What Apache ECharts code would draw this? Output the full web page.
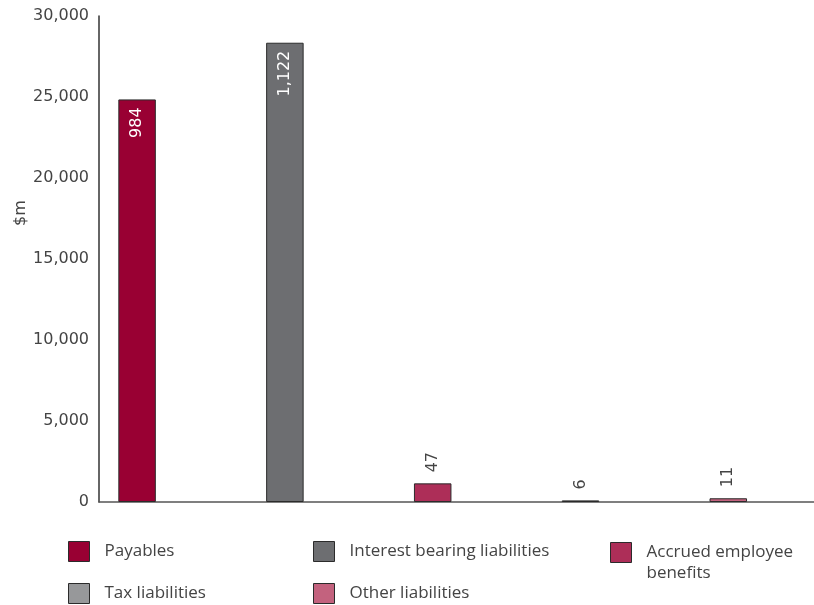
<!DOCTYPE html>
<html>
<head>
<meta charset="utf-8">
<script src="https://cdn.jsdelivr.net/npm/echarts@6/dist/echarts.min.js"></script>
<style>html,body{margin:0;padding:0;background:#fff}#c{width:814px;height:605px}</style>
</head>
<body>
<div id="c"></div>
<script>
var categories = ['Payables', 'Interest bearing liabilities', 'Accrued employee benefits', 'Tax liabilities', 'Other liabilities'];
var values = [24850, 28350, 1150, 100, 230];
var labels = ['984', '1,122', '47', '6', '11'];
var colors = ['#990033', '#6D6E71', '#AD2E58', '#97989A', '#C3627E'];
var yTicks = [0, 5000, 10000, 15000, 20000, 25000, 30000];

var FONT = 'DejaVu Sans';
var LEGEND_FONT = 'Open Sans';
var chart = echarts.init(document.getElementById('c'));

var series = categories.map(function (name, i) {
  var inside = i < 2;
  return {
    name: name,
    type: 'bar',
    stack: 'all',
    barWidth: 37.5,
    barGap: '91%',
    data: categories.map(function (c, j) { return j === i ? values[i] : '-'; }),
    itemStyle: { color: colors[i], borderColor: '#2b2b2b', borderWidth: 1 },
    label: {
      show: true,
      position: inside ? 'insideTop' : 'top',
      rotate: 90,
      distance: inside ? 8 : 11,
      align: inside ? 'right' : 'left',
      verticalAlign: 'middle',
      color: inside ? '#ffffff' : '#444',
      fontFamily: FONT,
      fontSize: 16,
      formatter: function () { return labels[i]; }
    }
  };
});
series.push({
  name: 'spacer',
  type: 'bar',
  barWidth: 37.5,
  barGap: '91%',
  data: categories.map(function () { return '-'; }),
  silent: true
});

var legendPos = [
  { left: 68, top: 541 },
  { left: 313, top: 541 },
  { left: 610, top: 521 },
  { left: 68, top: 583 },
  { left: 313, top: 583 }
];
var legends = categories.map(function (name, i) {
  var isAccrued = i === 2;
  return {
    data: [{ name: name, icon: 'rect' }],
    left: legendPos[i].left,
    top: legendPos[i].top,
    padding: 0,
    itemWidth: 21,
    itemHeight: 20,
    selectedMode: false,
    itemStyle: { borderColor: '#2b2b2b', borderWidth: 1 },
    formatter: isAccrued ? function () { return '\nAccrued employee\nbenefits'; } : undefined,
    textStyle: {
      fontFamily: LEGEND_FONT,
      fontSize: 17,
      color: '#444',
      lineHeight: 21,
      padding: [0, 0, 0, 10]
    }
  };
});

chart.setOption({
  animation: false,
  grid: { left: 99, right: -24, top: 16, bottom: 103, outerBoundsMode: 'none', containLabel: false },
  legend: legends,
  xAxis: {
    type: 'category',
    data: categories,
    axisLine: { lineStyle: { color: '#555', width: 1.5 } },
    axisTick: { show: false },
    axisLabel: { show: false }
  },
  yAxis: {
    type: 'value',
    min: yTicks[0],
    max: yTicks[yTicks.length - 1],
    interval: 5000,
    name: '$m',
    nameLocation: 'middle',
    nameGap: 70,
    nameMoveOverlap: false,
    nameTextStyle: { fontFamily: FONT, fontSize: 16, color: '#444', padding: [0, 0, 0, 92] },
    axisLine: { show: true, lineStyle: { color: '#333', width: 1.5 } },
    axisTick: { show: false },
    splitLine: { show: false },
    axisLabel: {
      margin: 10,
      fontFamily: FONT,
      fontSize: 16,
      color: '#444',
      formatter: function (v) { return v.toLocaleString('en-US'); }
    }
  },
  series: series
});
</script>
</body>
</html>
